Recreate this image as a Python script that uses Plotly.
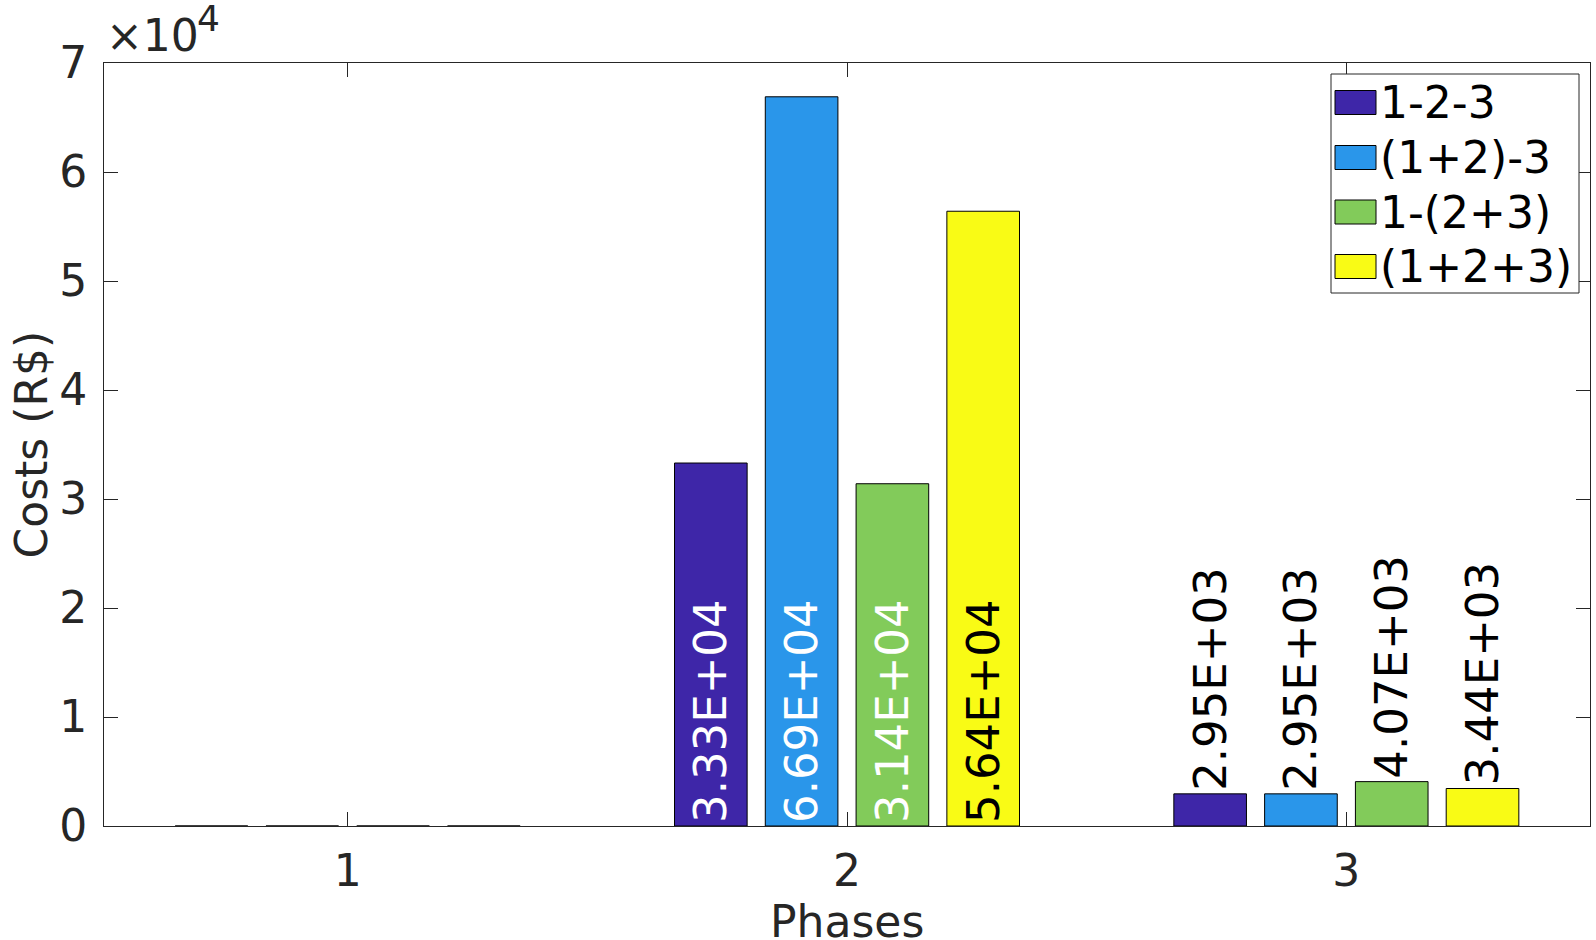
import plotly.graph_objects as go

# ---- data ----
phases = [1, 2, 3]
series_names = ["1-2-3", "(1+2)-3", "1-(2+3)", "(1+2+3)"]
s_123 = [0, 33300, 2950]
s_12_3 = [0, 66900, 2950]
s_1_23 = [0, 31400, 4070]
s_all = [0, 56400, 3440]
series_values = [s_123, s_12_3, s_1_23, s_all]
colors = ["#3e26a8", "#2a96ea", "#82cb5a", "#f9fb15"]
inside_text_colors = ["white", "white", "white", "black"]
y_tickvals = [0, 10000, 20000, 30000, 40000, 50000, 60000, 70000]
y_ticktext = ["0", "1", "2", "3", "4", "5", "6", "7"]
x_ticktext = ["1", "2", "3"]
y_exponent = "4"

W, H = 1596, 940
ML, MR, MT, MB = 104, 6, 63, 114
PW = W - ML - MR
PH = H - MT - MB
FONT = "DejaVu Sans"
TXT = "#262626"


def px_x(px):
    return (px - ML) / PW


def px_y(py):
    return (H - MB - py) / PH


fig = go.Figure()
for name, vals, col, tcol in zip(series_names, series_values, colors, inside_text_colors):
    texts, positions, tcolors = [], [], []
    for v in vals:
        if v <= 0:
            texts.append(" ")
            positions.append("none")
            tcolors.append("black")
        elif v > 10000:
            texts.append("%.2E" % v)
            positions.append("inside")
            tcolors.append(tcol)
        else:
            texts.append("%.2E" % v)
            positions.append("outside")
            tcolors.append("black")
    fig.add_trace(go.Bar(
        x=phases, y=vals, name=name,
        marker=dict(color=col, line=dict(color="black", width=1)),
        text=texts, textposition=positions, textangle=-90,
        insidetextanchor="start",
        textfont=dict(family=FONT, size=45, color=tcolors),
        constraintext="none", cliponaxis=False,
        showlegend=False,
    ))

axis_common = dict(
    showline=True, linecolor=TXT, linewidth=1, mirror="allticks",
    ticks="inside", ticklen=14, tickcolor=TXT, tickwidth=1,
    showgrid=False, zeroline=False, automargin=False,
    tickfont=dict(family=FONT, size=44, color=TXT),
)

fig.update_layout(
    width=W, height=H, autosize=False,
    margin=dict(l=ML, r=MR, t=MT, b=MB, pad=0, autoexpand=False),
    plot_bgcolor="white", paper_bgcolor="white",
    barmode="group", bargap=0.2727, bargroupgap=0.2,
    xaxis=dict(range=[0.512, 3.488], tickvals=phases, ticktext=x_ticktext,
               ticklabelstandoff=6, **axis_common),
    yaxis=dict(range=[0, 70000], tickvals=y_tickvals, ticktext=y_ticktext,
               ticklabelstandoff=7, **axis_common),
    font=dict(family=FONT, color=TXT),
)

annotations = [
    dict(text="Phases", x=0.5, y=px_y(921), xref="paper", yref="paper",
         xanchor="center", yanchor="middle", showarrow=False,
         font=dict(family=FONT, size=44, color=TXT)),
    dict(text="Costs (R$)", x=px_x(31), y=0.5, xref="paper", yref="paper",
         xanchor="center", yanchor="middle", showarrow=False, textangle=-90,
         font=dict(family=FONT, size=44, color=TXT)),
    dict(text="×10", x=0, y=1, xref="paper", yref="paper",
         xanchor="left", yanchor="bottom", showarrow=False,
         font=dict(family=FONT, size=44, color=TXT)),
    dict(text=y_exponent, x=px_x(195), y=px_y(18), xref="paper", yref="paper",
         xanchor="left", yanchor="middle", showarrow=False,
         font=dict(family=FONT, size=36, color=TXT)),
]

# manual legend
shapes = [dict(type="rect", xref="paper", yref="paper",
               x0=px_x(1331), x1=px_x(1579), y0=px_y(293), y1=px_y(74),
               line=dict(color=TXT, width=1), fillcolor="white", layer="above")]
row_centers = [102.5, 157.5, 212, 266.5]
for name, col, cy in zip(series_names, colors, row_centers):
    shapes.append(dict(type="rect", xref="paper", yref="paper",
                       x0=px_x(1335), x1=px_x(1376), y0=px_y(cy + 12), y1=px_y(cy - 12),
                       line=dict(color="black", width=1), fillcolor=col, layer="above"))
    annotations.append(dict(text=name, x=px_x(1378), y=px_y(cy), xref="paper", yref="paper",
                            xanchor="left", yanchor="middle", showarrow=False,
                            font=dict(family=FONT, size=44, color="black")))

fig.update_layout(shapes=shapes, annotations=annotations)
fig.write_html(
    "out.html",
    config={"displayModeBar": False},
    post_script="document.body.style.margin='0';document.body.style.overflow='hidden';",
)
